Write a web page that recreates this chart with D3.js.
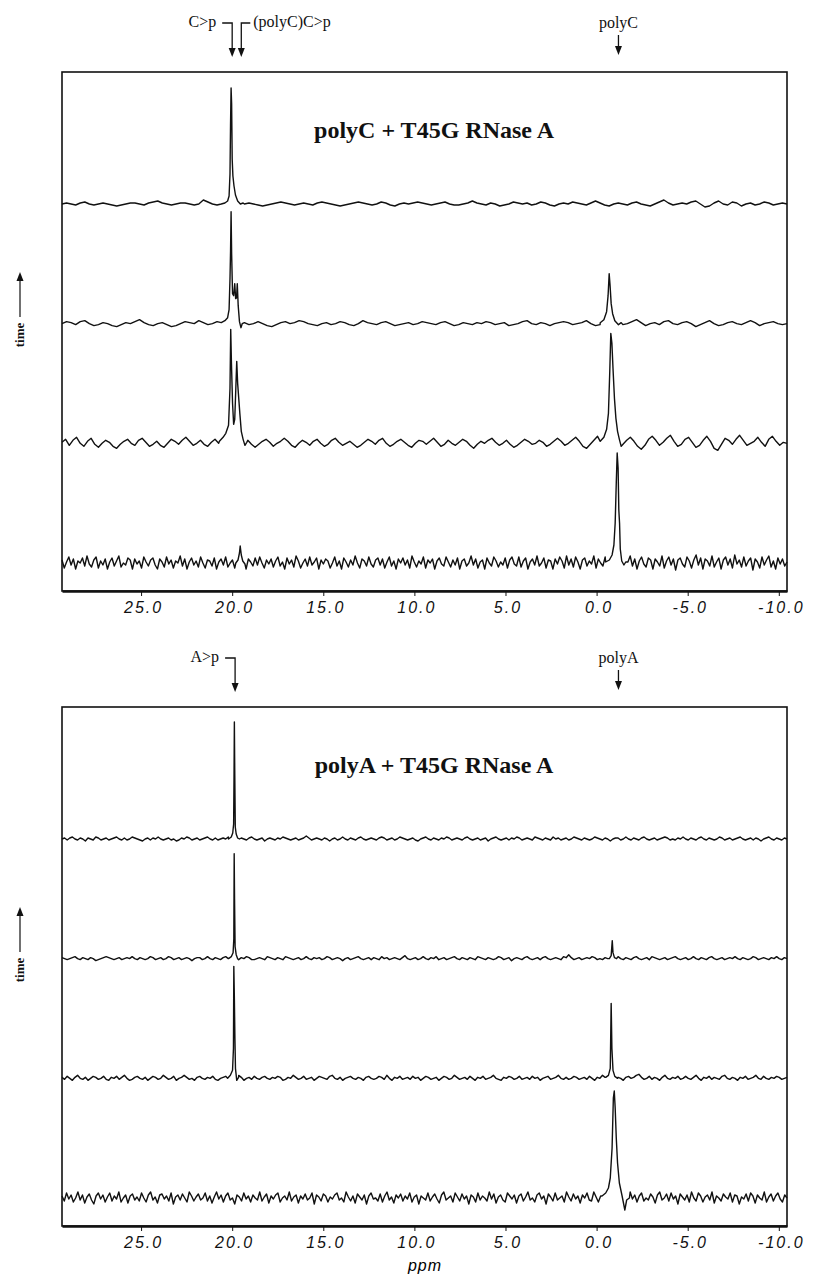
<!DOCTYPE html>
<html>
<head>
<meta charset="utf-8">
<script src="https://cdn.jsdelivr.net/npm/d3@7"></script>
<style>
  body { margin: 0; background: #fff; }
  svg { display: block; }
  .serif { font-family: 'Liberation Serif', 'Times New Roman', serif; fill: #111; }
  .tick text { font-family: 'Liberation Sans', Arial, sans-serif; font-style: italic; font-size: 16px; letter-spacing: 2px; fill: #111; }
</style>
</head>
<body>
<svg id="chart" width="816" height="1280"></svg>
<script>
// ppm window of both spectra (left edge -> right edge of the frame)
const ppmLeft = 29.34;
const ppmRight = -10.45;
const tickValues = [25, 20, 15, 10, 5, 0, -5, -10];

// baseline noise, evenly spread over the ppm window
const noiseC1 = [0,1,0,-1,1,2,0,-1,0,1, 0,-1,-2,-1,0,1,1,0,-1,1,
  2,3,1,0,-1,0,1,1,0,-1, 0,4,2,0,-1,-2,0,1,0,-1,
  0,1,0,-1,-2,-1,0,1,2,1, 0,-1,0,1,0,-1,1,2,1,0,
  -1,-2,-1,0,1,2,1,0,-1,0, 2,1,-1,-2,0,1,0,1,2,1,
  0,-1,0,1,2,0,-1,-1,0,1, 3,1,0,-1,1,0,-2,-1,0,2,
  1,0,1,-1,0,2,1,-1,-2,0, 1,0,2,1,0,-1,1,3,1,-1,
  -2,0,1,0,-1,1,2,0,-1,-2, 0,2,4,1,-1,0,1,0,2,3,
  0,-3,-2,1,3,0,-1,2,1,-2, 0,1,-1,0,2,1,-1,0,1,0];
const noiseC2 = [0,2,1,-1,2,3,0,-2,-1,1, 0,-2,-3,-1,1,0,2,4,1,-1,
  -2,0,1,-1,-3,-2,0,2,1,0, 3,1,-1,0,2,0,-2,-1,1,3,
  1,-1,0,2,0,-2,-3,-1,1,2, 0,1,3,2,0,-1,-2,0,1,-1,
  0,2,1,-1,-2,0,3,1,0,-1, 1,2,0,-2,-1,0,1,-1,0,2,
  1,0,-1,1,2,0,-2,-1,1,0, -1,1,0,2,1,-1,0,1,-2,-1,
  0,2,3,0,-1,1,0,-2,0,1, 2,1,-1,0,1,3,0,-2,-1,1,
  0,2,1,-1,0,2,4,1,-2,0, 1,-1,2,3,0,-1,1,2,0,-3,
  -1,1,3,0,-2,-1,1,2,0,-1, 1,3,1,-2,0,1,2,0,-1,0];
const noiseC3 = [1,4,-2,3,6,0,-3,2,5,-1, -4,0,3,1,-3,-5,-1,2,4,0,
  -2,3,5,1,-3,-1,2,-2,-4,0, 4,2,-1,3,6,2,-2,0,3,-1,
  -3,1,4,0,-4,-2,2,5,1,-2, 0,3,-1,-4,-1,2,4,1,-3,0,
  2,5,2,-2,-4,0,3,1,-2,2, 4,0,-3,-1,3,5,1,-2,0,2,
  -1,-4,-2,1,4,2,-1,3,5,0, -3,-1,2,4,1,-2,-4,0,3,2,
  -1,2,5,1,-3,-1,3,0,-2,1, 4,2,-2,-5,-1,2,0,3,5,1,
  -2,0,3,-1,-4,-2,1,4,2,-1, 0,3,1,-3,-1,2,5,2,-2,0,
  3,6,2,-3,-5,-1,3,7,2,-2, 1,5,0,-4,-1,3,6,2,-3,-6,
  -2,4,7,3,-2,1,5,8,2,-3, -1,4,6,1,-4,-2,3,7,2,-5,
  -7,-1,5,3,-1,4,8,3,-2,0, 2,6,1,-3,4,7,2,-2,1,0];
const noiseC4 = [3,-5,1,6,-2,4,-6,2,0,5,-3,7,-1,-4,3,6,-5,2,-2,4,
  -6,1,5,-3,2,7,-4,0,-2,5,3,-6,4,-1,2,-5,6,1,-3,3,
  5,-2,-6,4,1,-4,6,-1,3,-5,2,0,7,-3,4,-6,1,5,-2,2,
  -4,6,0,-5,3,2,-3,5,-6,1,4,-2,6,-4,0,3,-5,2,7,-1,
  2,-6,4,1,-3,5,-2,6,0,-5,3,-1,4,-4,2,6,-3,1,-6,5,
  -1,3,-4,7,2,-5,0,4,-3,6,-2,1,5,-6,3,-1,4,2,-5,0,
  6,-3,2,-6,5,1,-4,3,-2,7,0,-5,4,2,-3,6,-1,-4,3,5,
  -2,4,-5,1,6,-3,2,-6,4,0,5,-2,3,-5,7,1,-4,2,-1,6,
  -5,3,0,4,-6,2,5,-1,-3,6,1,-4,3,-2,5,-6,2,4,-3,0,
  7,-2,4,-5,1,3,-6,5,0,-3,6,2,-4,1,-2,5,-5,3,6,-1,
  -3,6,-4,2,5,-6,1,4,-2,7,-3,0,5,-5,3,2,-6,4,-1,6,
  2,-5,7,-2,4,-4,6,1,-6,3,5,-3,2,-1,7,-5,4,0,-3,6,
  -4,5,2,-7,6,-2,3,5,-5,1,7,-3,4,-6,2,6,-1,-4,5,3,
  -6,4,1,-3,7,-5,2,6,-2,4,-7,3,5,-1,-4,6,2,-5,3,8,
  -2,5,-6,4,2,-3,7,-4,1,5,-6,3,6,-2,4,-5,8,-1,3,-4,
  6,-3,2,5,-7,4,1,-5,6,-2,3,7,-4,2,-6,5,-1,4,-3,1];
const noiseA1 = [0,1,-1,1,2,0,-1,1,0,-2,1,0,-1,2,1,-1,0,1,-1,0,
  1,2,0,-1,1,-1,0,2,1,0,-1,-2,0,1,-1,1,0,2,0,-1,
  0,1,-1,0,-2,-1,1,0,2,1,-1,0,1,-1,0,1,2,0,-1,1,
  -1,0,1,0,2,1,-1,-1,0,1,0,-1,1,2,0,-1,0,1,-2,0,
  1,0,-1,1,0,2,1,0,-1,0,1,-1,0,1,3,1,-1,0,1,0,
  -1,1,0,-2,0,1,-1,0,2,0,-1,1,0,-1,1,2,0,-1,0,1,
  0,-1,1,2,1,-1,0,1,-1,0,2,1,0,-1,0,1,-1,-2,0,1,
  2,0,-1,1,0,-1,1,0,2,1,-1,0,1,0,-1,1,2,0,-1,0,
  1,-1,0,1,-2,0,1,2,0,-1,0,1,-1,1,0,2,1,-1,0,1,
  0,-1,2,1,0,-1,1,0,-1,2,0,1,-1,0,1,-1,0,2,1,0,
  -1,1,0,-1,0,2,1,0,-1,1,0,-2,0,1,1,-1,0,2,0,-1,
  1,0,-1,1,2,0,-1,0,1,-1,0,1,2,1,-1,0,-1,1,0,2,
  0,-1,1,0,-1,1,2,0,-1,1,0,-1,0,2,1,-1,0,1,-1,0,
  1,2,0,-1,0,1,-1,1,0,-2,0,1,2,0,-1,1,0,-1,1,0];
const noiseA2 = [1,0,-1,0,1,2,0,-1,1,0,-1,1,0,-2,-1,0,1,2,1,0,
  -1,0,1,-1,0,1,0,2,0,-1,1,0,-1,0,2,1,-1,0,1,-1,
  0,2,1,-1,0,1,-1,0,1,0,-2,0,1,1,-1,0,2,0,-1,1,
  0,-1,1,2,0,-1,0,1,-1,1,0,2,1,-1,-1,0,1,0,-1,2,
  1,0,-1,1,0,-1,2,1,0,-1,0,1,-1,0,2,0,-1,1,0,1,
  -1,0,2,1,-1,0,1,0,-2,0,1,-1,0,1,2,0,-1,0,1,-1,
  1,0,-1,2,0,1,-1,0,1,0,-1,1,3,0,-1,0,1,-1,0,2,
  0,-1,1,0,2,-1,0,1,-1,0,1,2,0,-1,1,0,-1,1,0,-1,
  2,1,0,-1,1,0,-1,0,2,1,-1,0,1,-2,0,1,0,-1,1,2,
  0,-1,0,1,-1,1,2,0,-1,0,1,0,-1,2,1,4,1,-1,0,1,
  -1,0,1,0,2,1,-1,0,-1,1,0,1,-1,0,2,0,-1,1,0,-1,
  1,2,0,-1,0,1,-1,2,1,0,-1,0,1,-1,0,1,2,0,-1,0,
  1,-1,0,2,0,-1,1,0,-1,1,2,0,-1,0,1,-1,0,1,0,2,
  0,-1,1,0,-1,0,2,1,-1,0,1,0,-1,1,0,2,0,-1,1,0];
const noiseA3 = [1,-1,2,0,-2,1,3,0,-1,1,-2,0,2,1,-1,0,2,-1,-2,1,
  0,2,-1,1,3,0,-2,-1,1,2,0,-1,1,-2,0,2,1,-1,0,3,
  1,-1,0,2,-2,0,1,3,1,-1,0,-2,1,2,0,-1,1,0,2,-1,
  -2,0,1,2,-1,1,0,-1,3,1,-2,0,1,-1,2,0,-1,1,2,0,
  -1,1,0,2,1,-2,-1,1,0,3,1,-1,0,2,-1,0,1,-2,0,2,
  1,0,-1,2,3,0,-1,1,-2,0,1,2,0,-1,1,0,-2,1,2,0,
  -1,0,2,1,-1,3,0,-2,1,0,2,-1,0,1,-1,2,0,1,-2,0,
  2,1,-1,0,1,-2,0,2,1,-1,0,3,1,-1,0,1,-1,2,0,-2,
  1,0,2,-1,0,1,3,0,-1,-2,1,0,2,1,-1,0,2,-1,0,1,
  -1,2,0,1,-2,0,1,2,-1,0,1,3,0,-1,1,-1,0,2,1,-1,
  0,1,-1,2,0,-2,1,0,3,1,-1,0,2,-1,1,0,-2,1,2,0,
  1,3,4,1,-1,0,2,-1,1,0,-2,1,3,0,-1,1,0,2,-1,0,
  2,0,-1,1,3,0,-2,1,0,2,-1,1,0,-1,2,3,0,-1,1,0,
  -2,1,0,2,-1,0,1,3,0,-1,2,0,-1,1,0,2,1,-1,0,1];
const noiseA4 = [2,-3,5,-1,3,-4,0,6,-2,3,-5,1,4,-2,-6,2,5,-1,3,-4,
  1,5,-3,2,-1,6,-4,0,3,-5,2,4,-2,1,-3,5,0,-4,3,6,
  -2,1,-5,3,4,-1,2,-3,5,-6,1,3,-2,4,0,-4,6,2,-3,1,
  4,-2,0,5,-3,2,-5,1,6,-1,3,-4,2,5,-2,0,-6,3,1,-3,
  5,-1,2,-4,3,0,-2,6,-3,1,4,-5,2,-1,3,5,-4,0,2,-2,
  6,-3,1,3,-5,2,-1,4,-2,0,5,-6,3,1,-3,4,2,-4,1,-1,
  3,5,-2,0,-4,6,1,-3,2,-5,4,1,-2,3,-6,2,5,-1,0,-3,
  4,-4,2,6,-2,1,-5,3,0,4,-3,2,-1,5,-4,1,3,-6,2,0,
  -2,5,-3,1,4,-1,-5,3,6,-2,0,2,-4,5,1,-3,4,-1,2,-6,
  3,1,-4,5,-2,2,0,-3,6,-1,4,-5,1,3,-2,-4,5,2,-1,3,
  -5,2,4,-3,1,6,-2,0,-4,3,5,-1,2,-6,4,1,-3,5,-2,0,
  2,-4,6,1,-3,4,-1,2,-5,3,0,5,-2,-3,6,1,-4,2,4,-1,
  -3,5,0,-6,3,2,-2,4,1,-5,6,-1,3,-4,2,5,-3,0,-2,4,
  1,-5,3,6,-2,0,4,-3,5,-1,2,-6,4,1,-2,3,-4,6,0,-3,
  5,2,-4,1,3,-2,6,-5,2,0,-3,4,1,-1,5,-4,3,2,-6,1,
  -1,4,-3,5,2,-5,3,0,-2,6,-4,1,4,-3,2,5,-1,-4,3,0];

// peaks as [ppm, intensity] points
const peaksC1 = [
  [[20.6,0],[20.4,1],[20.25,3],[20.17,8],[20.12,30],[20.09,80],[20.06,116],[20.03,100],[20.0,45],[19.96,28],[19.9,18],[19.82,9],[19.7,3],[19.55,0],[19.4,1]]
];
const peaksC2 = [
  [[20.6,1],[20.4,3],[20.25,6],[20.17,14],[20.12,45],[20.09,72],[20.06,112],[20.03,70],[19.98,30],[19.92,28],[19.86,40],[19.81,25],[19.76,26],[19.72,40],[19.67,18],[19.6,2],[19.52,-4],[19.45,0]],
  [[-0.2,1],[-0.4,4],[-0.55,12],[-0.63,28],[-0.69,50],[-0.74,38],[-0.8,20],[-0.88,10],[-1.0,3],[-1.2,-1],[-1.35,1]]
];
const peaksC3 = [
  [[20.7,2],[20.5,6],[20.35,10],[20.2,18],[20.12,55],[20.08,114],[20.04,80],[19.98,40],[19.92,19],[19.86,24],[19.8,55],[19.75,82],[19.7,60],[19.64,45],[19.58,30],[19.5,12],[19.4,4],[19.3,-2],[19.2,1]],
  [[-0.2,2],[-0.4,6],[-0.55,14],[-0.65,30],[-0.72,70],[-0.78,110],[-0.84,100],[-0.9,75],[-0.98,45],[-1.06,25],[-1.15,12],[-1.25,4],[-1.35,-3],[-1.5,0]]
];
const peaksC4 = [
  [[19.8,0],[19.68,3],[19.6,10],[19.56,17],[19.5,8],[19.42,2],[19.3,-1]],
  [[-0.5,1],[-0.7,3],[-0.85,8],[-0.95,18],[-1.02,40],[-1.08,80],[-1.13,110],[-1.18,95],[-1.22,53],[-1.26,40],[-1.3,14],[-1.38,2],[-1.5,-2],[-1.6,1]]
];
const peaksA1 = [
  [[20.2,0],[20.05,2],[19.97,6],[19.92,15],[19.9,60],[19.88,117],[19.86,70],[19.83,12],[19.78,5],[19.7,1],[19.6,0]]
];
const peaksA2 = [
  [[20.2,0],[20.05,2],[19.95,6],[19.91,20],[19.89,105],[19.87,60],[19.84,12],[19.78,4],[19.7,0]],
  [[-0.7,0],[-0.8,3],[-0.86,18],[-0.9,6],[-0.98,1],[-1.1,0]]
];
const peaksA3 = [
  [[20.25,0],[20.1,3],[19.98,8],[19.93,30],[19.91,112],[19.88,80],[19.85,40],[19.82,10],[19.75,-2],[19.65,1]],
  [[-0.5,1],[-0.65,3],[-0.75,10],[-0.8,75],[-0.84,30],[-0.9,8],[-1.0,2],[-1.15,0]]
];
const peaksA4 = [
  [[-0.3,2],[-0.5,5],[-0.65,10],[-0.75,20],[-0.85,50],[-0.92,100],[-0.97,107],[-1.02,90],[-1.08,60],[-1.15,35],[-1.25,15],[-1.4,2],[-1.55,-12],[-1.65,-2],[-1.8,0]]
];

const panels = [
  {
    title: 'polyC + T45G RNase A', top: 72,
    noise: [noiseC1, noiseC2, noiseC3, noiseC4],
    peaks: [peaksC1, peaksC2, peaksC3, peaksC4],
    leftLabels: [{ text: 'C>p', ppm: 20.0 }],
    rightLabels: [{ text: '(polyC)C>p', ppm: 19.5 }],
    plainLabels: [{ text: 'polyC', ppm: -1.2 }]
  },
  {
    title: 'polyA + T45G RNase A', top: 707,
    noise: [noiseA1, noiseA2, noiseA3, noiseA4],
    peaks: [peaksA1, peaksA2, peaksA3, peaksA4],
    leftLabels: [{ text: 'A>p', ppm: 19.84 }],
    rightLabels: [],
    plainLabels: [{ text: 'polyA', ppm: -1.2 }]
  }
];

const svg = d3.select('#chart');
const frameLeft = 62, frameRight = 787, frameHeight = 519;
const x = d3.scaleLinear().domain([ppmLeft, ppmRight]).range([frameLeft, frameRight]);
const amp = d3.scaleLinear().domain([0, 100]).range([0, -100]);

const buildTrace = (noise, peaks) => {
  const step = (ppmLeft - ppmRight) / (noise.length - 1);
  const ranges = peaks.map(p => [d3.max(p, d => d[0]), d3.min(p, d => d[0])]);
  const pts = noise.map((v, i) => [ppmLeft - i * step, v])
    .filter(([ppm]) => !ranges.some(([hi, lo]) => ppm <= hi && ppm >= lo));
  peaks.forEach(p => pts.push(...p));
  return pts.sort((a, b) => b[0] - a[0]);
};

const arrowHead = (g, ax, tipY) => {
  g.append('path')
    .attr('d', `M${ax - 3.5},${tipY - 9}L${ax + 3.5},${tipY - 9}L${ax},${tipY}Z`)
    .attr('fill', '#111');
};

panels.forEach(panel => {
  const top = panel.top;
  const g = svg.append('g');
  const rowY = d3.scalePoint().domain(d3.range(4)).range([top + 132, top + 491]);

  // traces
  panel.noise.forEach((noise, i) => {
    const data = buildTrace(noise, panel.peaks[i]);
    const line = d3.line().x(d => x(d[0])).y(d => rowY(i) + amp(d[1]));
    g.append('path')
      .datum(data)
      .attr('d', line)
      .attr('fill', 'none')
      .attr('stroke', '#111')
      .attr('stroke-width', 1.4)
      .attr('stroke-linejoin', 'round');
  });

  // frame
  g.append('rect')
    .attr('x', frameLeft).attr('y', top)
    .attr('width', frameRight - frameLeft).attr('height', frameHeight)
    .attr('fill', 'none').attr('stroke', '#111').attr('stroke-width', 1.6);

  // axis
  const axis = g.append('g')
    .attr('transform', `translate(0,${top + frameHeight})`)
    .call(d3.axisBottom(x).tickValues(tickValues).tickSize(5).tickSizeOuter(0)
      .tickFormat(d => d.toFixed(1)));
  axis.select('.domain').attr('stroke', '#111').attr('stroke-width', 2.4);
  axis.selectAll('.tick line').attr('stroke', '#111');
  axis.selectAll('.tick text').attr('y', 11).attr('dx', 2);

  // title
  g.append('text')
    .attr('class', 'serif')
    .attr('x', 434).attr('y', top + 66)
    .attr('text-anchor', 'middle')
    .style('font-size', '24px').style('font-weight', 'bold')
    .text(panel.title);

  // peak labels with bracket arrows
  const textY = top - 45, bracketY = top - 49, tipY = top - 15;
  panel.leftLabels.forEach(l => {
    const ax = x(l.ppm);
    g.append('text').attr('class', 'serif').attr('x', ax - 16).attr('y', textY)
      .attr('text-anchor', 'end').style('font-size', '16px').text(l.text);
    g.append('path').attr('d', `M${ax - 10},${bracketY}H${ax}V${tipY - 6}`)
      .attr('fill', 'none').attr('stroke', '#111').attr('stroke-width', 1.3);
    arrowHead(g, ax, tipY);
  });
  panel.rightLabels.forEach(l => {
    const ax = x(l.ppm);
    g.append('text').attr('class', 'serif').attr('x', ax + 12).attr('y', textY)
      .style('font-size', '16px').text(l.text);
    g.append('path').attr('d', `M${ax + 9},${bracketY}H${ax}V${tipY - 6}`)
      .attr('fill', 'none').attr('stroke', '#111').attr('stroke-width', 1.3);
    arrowHead(g, ax, tipY);
  });
  panel.plainLabels.forEach(l => {
    const ax = x(l.ppm);
    g.append('text').attr('class', 'serif').attr('x', ax).attr('y', textY + 1)
      .attr('text-anchor', 'middle').style('font-size', '16px').text(l.text);
    g.append('path').attr('d', `M${ax},${top - 37}V${tipY - 6}`)
      .attr('fill', 'none').attr('stroke', '#111').attr('stroke-width', 1.3);
    arrowHead(g, ax, tipY - 2);
  });

  // time label with upward arrow
  const tx = 24, ty = top + 263;
  g.append('text').attr('class', 'serif')
    .attr('transform', `translate(${tx},${ty}) rotate(-90)`)
    .attr('text-anchor', 'middle')
    .style('font-size', '13px').style('font-weight', 'bold')
    .text('time');
  g.append('path').attr('d', `M${tx - 4},${ty - 18}V${ty - 56}`)
    .attr('stroke', '#111').attr('stroke-width', 1.2);
  g.append('path')
    .attr('d', `M${tx - 7.5},${ty - 54}L${tx - 0.5},${ty - 54}L${tx - 4},${ty - 63}Z`)
    .attr('fill', '#111');
});

// x-axis title
svg.append('text')
  .attr('x', 425).attr('y', 1271)
  .attr('text-anchor', 'middle')
  .style('font-family', "'Liberation Sans', Arial, sans-serif")
  .style('font-style', 'italic').style('font-size', '16px').style('letter-spacing', '1px')
  .text('ppm');
</script>
</body>
</html>
